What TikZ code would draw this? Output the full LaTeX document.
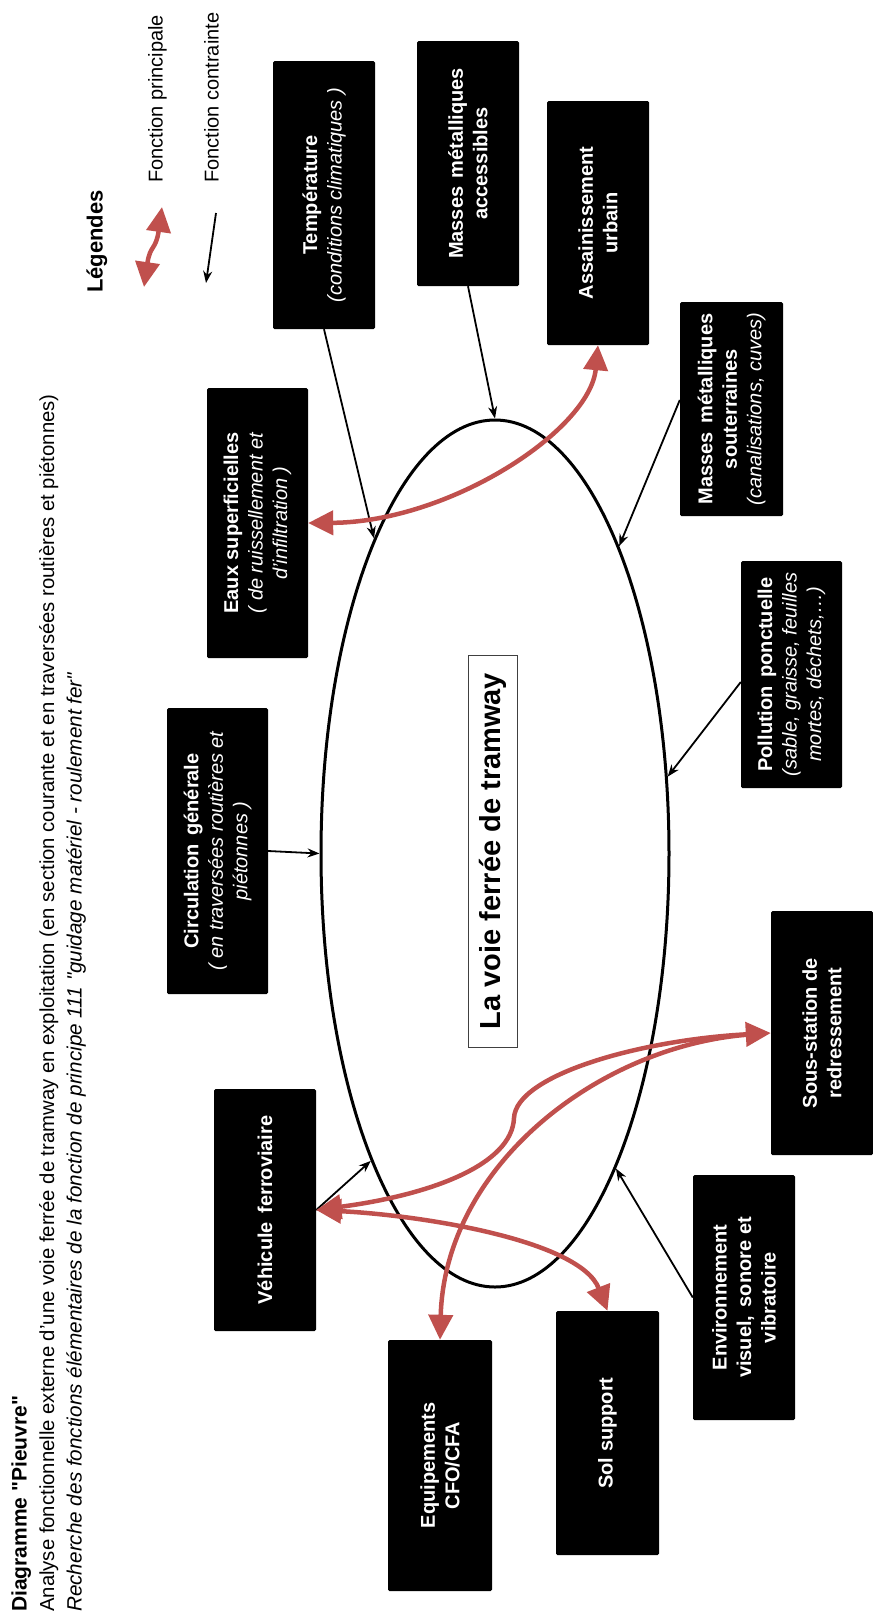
\documentclass[tikz,border=0pt]{standalone}
\usepackage{fontspec}
\setmainfont{Liberation Sans}
\newfontfamily\plainquotefont{Liberation Sans}
\usetikzlibrary{shapes.geometric,arrows.meta,calc}
\definecolor{redarr}{HTML}{C0504D}
\definecolor{framegray}{HTML}{404040}
\newcommand{\sq}{{\plainquotefont"}}
\begin{document}
\begin{tikzpicture}[x=1pt,y=-1pt,
  box/.style={fill=black, text=white, rounded corners=1.5pt, rotate=90, align=center, inner sep=0pt, font=\fontsize{20}{24.5}\selectfont\bfseries},
  carrow/.style={line width=1.8pt, -{Stealth[length=12pt,width=9pt]}},
  rarrow/.style={line width=4.5pt, redarr, {Triangle[length=25pt,width=24pt]}-{Triangle[length=25pt,width=24pt]}},
  rarrowe/.style={line width=4.5pt, redarr, -{Triangle[length=25pt,width=24pt]}},
  titletext/.style={rotate=90, anchor=base west, inner sep=0pt, font=\fontsize{21}{25}\selectfont},
  legtext/.style={rotate=90, anchor=base west, inner sep=0pt, font=\fontsize{20}{24}\selectfont},
]
\useasboundingbox (0,0) rectangle (873,1618);

% central ellipse and title box
\node[draw, ellipse, line width=3pt, minimum width=348pt, minimum height=867pt, inner sep=0pt] (voie) at (495,853.5) {};
\node[draw=framegray, fill=white, line width=1pt, rotate=90, minimum width=392pt, minimum height=49pt, inner sep=0pt, font=\fontsize{29}{34}\selectfont\bfseries] (titre) at (492.5,851) {La voie ferrée de tramway};

% boxes
\node[box, minimum width=268pt, minimum height=102pt] (temp) at (324,195) {Température\\{\mdseries\itshape (conditions climatiques )}};
\node[box, minimum width=245pt, minimum height=102pt] (macc) at (468,163.5) {Masses\hspace{3pt} métalliques\\accessibles};
\node[box, minimum width=244pt, minimum height=102pt] (ass) at (598,223) {Assainissement\\urbain};
\node[box, minimum width=270pt, minimum height=101pt] (eaux) at (257.5,523) {Eaux superficielles\\{\mdseries\itshape ( de ruissellement et}\\{\mdseries\itshape d'infiltration )}};
\node[box, minimum width=214pt, minimum height=103pt] (msout) at (731.5,409) {Masses\hspace{3pt} métalliques\\souterraines\\{\mdseries\itshape (canalisations, cuves)}};
\node[box, minimum width=227pt, minimum height=101pt] (poll) at (791.5,674.5) {Pollution\hspace{3pt} ponctuelle\\{\mdseries\itshape (sable, graisse, feuilles}\\{\mdseries\itshape mortes, déchets,…)}};
\node[box, minimum width=286pt, minimum height=101pt] (circ) at (217.5,851) {Circulation\hspace{3pt} générale\\{\mdseries\itshape ( en traversées routières et}\\{\mdseries\itshape piétonnes )}};
\node[box, minimum width=244pt, minimum height=102pt] (sous) at (822,1033) {Sous-station de\\redressement};
\node[box, minimum width=242pt, minimum height=102pt] (veh) at (265,1210) {Véhicule\hspace{3pt} ferroviaire};
\node[box, minimum width=251pt, minimum height=104pt] (equip) at (440,1465.5) {Equipements\\CFO/CFA};
\node[box, minimum width=244pt, minimum height=103pt] (sol) at (607.5,1433) {Sol support};
\node[box, minimum width=245pt, minimum height=102pt] (env) at (744,1297.5) {Environnement\\visuel,\hspace{3pt} sonore et\\vibratoire};

% constraint arrows (black)
\draw[carrow] (temp.west) -- (voie.111.8);
\draw[carrow] (macc.west) -- (voie.90);
\draw[carrow] ($(msout.north)+(0,-9)$) -- (voie.68.4);
\draw[carrow] ($(poll.north)+(0,7.5)$) -- (voie.24);
\draw[carrow] (circ.south) -- (voie.180);
\draw[carrow] (veh.south) -- (voie.248);
\draw[carrow] (env.north) -- (voie.291.6);

% main function arrows (red)
\draw[rarrow] (eaux.south) .. controls (450,522) and (590,430) .. (ass.west);
\coordinate (w1) at (514,1118);
\draw[rarrowe, shorten <=20pt] (sous.north) .. controls (600,1045) and (445,1165) .. (equip.east);
\draw[rarrow] (veh.south) .. controls (430,1195) and (512,1165) .. (w1) .. controls (516,1075) and (640,1040) .. (sous.north);
\draw[rarrow] (veh.south) .. controls (420,1215) and (580,1240) .. (sol.east);

% legend
\node[legtext, font=\fontsize{22}{26}\selectfont\bfseries] (leg) at (102.5,293) {Légendes};
\node[legtext] (lp) at (162.5,183) {Fonction principale};
\node[legtext] (lc) at (218.5,183) {Fonction contrainte};
\coordinate (lra) at (144,287);
\coordinate (lrb) at (162,207);
\draw[rarrow] (lra) .. controls (150,245) and (156,250) .. (lrb);
\coordinate (lca) at (216,213);
\coordinate (lcb) at (206,283);
\draw[carrow] (lca) -- (lcb);

% heading
\node[titletext, font=\fontsize{21}{25}\selectfont\bfseries] (t1) at (26.7,1612) {Diagramme \sq Pieuvre\sq};
\node[titletext, font=\fontsize{20.3}{25}\selectfont] (t2) at (54,1612) {Analyse fonctionnelle externe d'une voie ferrée de tramway en exploitation (en section courante et en traversées routières et piétonnes)};
\node[titletext, font=\fontsize{20.7}{25}\selectfont\itshape] (t3) at (81.5,1612) {Recherche des fonctions élémentaires de la fonction de principe 111 \sq guidage matériel - roulement fer\sq};
\end{tikzpicture}
\end{document}
